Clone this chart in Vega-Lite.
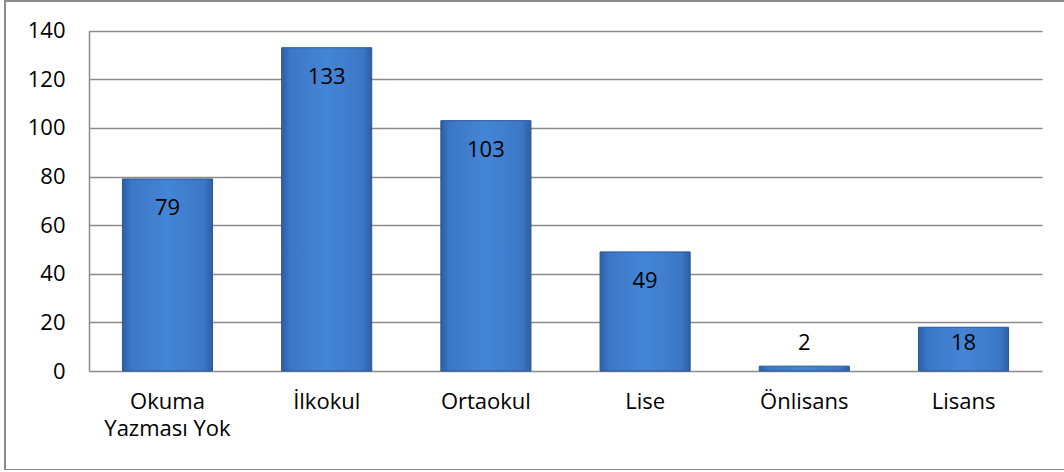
{
  "$schema": "https://vega.github.io/schema/vega-lite/v6.json",
  "autosize": "none",
  "padding": {"left": 5, "top": 1, "right": 0, "bottom": 0},
  "width": 1064,
  "height": 469,
  "background": "white",
  "config": {
    "view": {"stroke": "#8a8a8a", "strokeWidth": 2},
    "font": "Open Sans"
  },
  "data": {
    "values": [
      {"kategori": "Okuma Yazması Yok", "deger": 79},
      {"kategori": "İlkokul", "deger": 133},
      {"kategori": "Ortaokul", "deger": 103},
      {"kategori": "Lise", "deger": 49},
      {"kategori": "Önlisans", "deger": 2},
      {"kategori": "Lisans", "deger": 18}
    ]
  },
  "encoding": {
    "x": {
      "field": "kategori",
      "type": "nominal",
      "sort": null,
      "scale": {"range": [84, 1037], "paddingInner": 0.434, "paddingOuter": 0.21},
      "axis": {
        "title": null,
        "orient": "bottom",
        "offset": -99,
        "labelAngle": 0,
        "ticks": false,
        "domain": false,
        "grid": false,
        "labelFont": "Open Sans",
        "labelFontSize": 22,
        "labelColor": "#000000",
        "labelPadding": 20,
        "labelLineHeight": 27,
        "labelExpr": "datum.value == 'Okuma Yazması Yok' ? ['Okuma', 'Yazması Yok'] : datum.value"
      }
    }
  },
  "layer": [
    {
      "mark": {
        "type": "bar",
        "stroke": "#2a5894",
        "strokeWidth": 1,
        "color": {
          "gradient": "linear",
          "x1": 0, "y1": 0, "x2": 1, "y2": 0,
          "stops": [
            {"offset": 0, "color": "#2d5fa3"},
            {"offset": 0.1, "color": "#3b77c6"},
            {"offset": 0.5, "color": "#4585d6"},
            {"offset": 0.9, "color": "#3b77c6"},
            {"offset": 1, "color": "#2d5fa3"}
          ]
        }
      },
      "encoding": {
        "y": {
          "field": "deger",
          "type": "quantitative",
          "scale": {"domain": [0, 140], "range": [370, 29.7], "nice": false},
          "axis": {
            "title": null,
            "orient": "left",
            "offset": -84,
            "values": [0, 20, 40, 60, 80, 100, 120, 140],
            "ticks": false,
            "domain": true,
            "domainColor": "#8a8a8a",
            "domainWidth": 1.5,
            "grid": true,
            "gridColor": "#8a8a8a",
            "gridWidth": 1.4,
            "labelFont": "Open Sans",
            "labelFontSize": 22,
            "labelColor": "#000000",
            "labelPadding": 24
          }
        }
      }
    },
    {
      "transform": [{"filter": "datum.deger >= 20"}],
      "mark": {"type": "text", "baseline": "middle", "dy": 29, "fontSize": 22, "font": "Open Sans", "color": "#000000"},
      "encoding": {
        "y": {"field": "deger", "type": "quantitative"},
        "text": {"field": "deger", "type": "quantitative"}
      }
    },
    {
      "transform": [{"filter": "datum.deger < 20"}],
      "mark": {"type": "text", "baseline": "middle", "fontSize": 22, "font": "Open Sans", "color": "#000000"},
      "encoding": {
        "y": {"datum": 11.5, "type": "quantitative"},
        "text": {"field": "deger", "type": "quantitative"}
      }
    }
  ]
}
